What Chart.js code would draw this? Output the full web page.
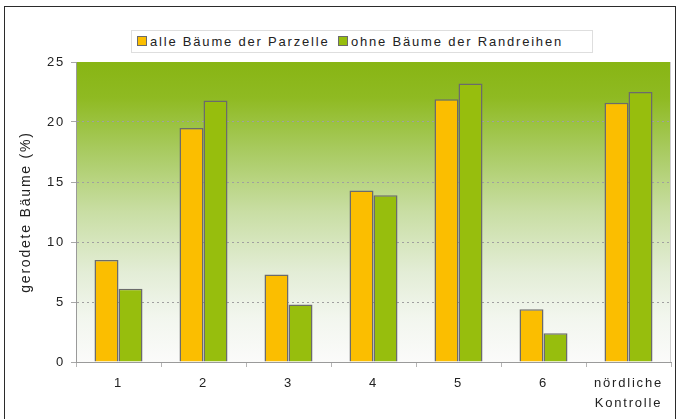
<!DOCTYPE html>
<html lang="de">
<head>
<meta charset="utf-8">
<title>gerodete Bäume</title>
<script src="https://cdn.jsdelivr.net/npm/chart.js@4.4.1/dist/chart.umd.min.js"></script>
<style>
  html, body { margin: 0; padding: 0; background: #fff; }
  #wrap { position: relative; width: 678px; height: 419px; overflow: hidden; }
  #frame { position: absolute; left: 4px; top: 6px; width: 670px; height: 450px; border: 1.5px solid #2b2b2b; }
  #chart { position: absolute; left: 0; top: 0; }
  #legend {
    position: absolute; left: 131px; top: 30px; width: 460px; height: 21px;
    border: 1px solid #dedede; background: #fff;
    font: 13px "Liberation Sans", Arial, sans-serif; color: #222; letter-spacing: 1.8px;
  }
  #legend .item { position: absolute; top: 3px; white-space: nowrap; line-height: 15px; }
  #legend .swatch { display: inline-block; width: 8px; height: 8px; border: 1px solid #6b6b6b; margin-right: 3px; }
</style>
</head>
<body>
<div id="wrap">
  <div id="frame"></div>
  <canvas id="chart" width="678" height="419"></canvas>
  <div id="legend"></div>
</div>
<script>
// Plots (x axis) and share of cleared trees in percent
const categories = ['1', '2', '3', '4', '5', '6', ['nördliche', 'Kontrolle']];
const seriesNames = ['alle Bäume der Parzelle', 'ohne Bäume der Randreihen'];
const alleBaeume = [8.5, 19.5, 7.3, 14.3, 21.9, 4.4, 21.6];
const ohneRandreihen = [6.1, 21.8, 4.8, 13.9, 23.2, 2.4, 22.5];
const yMin = 0;
const yMax = 25;
const yStep = 5;

const seriesColors = ['#fbbe00', '#97be0d'];
const textColor = '#222';
const letterSpacing = '1.8px';
const fontFamily = '"Liberation Sans", Arial, sans-serif';

// canvas text is a little spread out, like the legend
const spacing = {
  id: 'spacing',
  beforeUpdate(chart) { chart.ctx.letterSpacing = letterSpacing; },
  beforeLayout(chart) { chart.ctx.letterSpacing = letterSpacing; },
  beforeDraw(chart) { chart.ctx.letterSpacing = letterSpacing; }
};

// green-to-white fill behind the plot area
const plotFill = {
  id: 'plotFill',
  beforeDraw(chart) {
    const { ctx, chartArea: { left, top, right, bottom } } = chart;
    const g = ctx.createLinearGradient(0, top, 0, bottom);
    g.addColorStop(0, '#88b514');
    g.addColorStop(0.12, '#8fba22');
    g.addColorStop(0.3, '#a9cb62');
    g.addColorStop(0.5, '#c9dea4');
    g.addColorStop(0.7, '#e3edd6');
    g.addColorStop(0.85, '#f2f6ee');
    g.addColorStop(1, '#fbfbfa');
    ctx.save();
    ctx.fillStyle = g;
    ctx.fillRect(left, top, right - left, bottom - top);
    ctx.strokeStyle = '#cfcfcf';
    ctx.lineWidth = 1;
    ctx.beginPath();
    ctx.moveTo(right - 0.5, top);
    ctx.lineTo(right - 0.5, bottom);
    ctx.stroke();
    ctx.restore();
  }
};

const chart = new Chart(document.getElementById('chart'), {
  type: 'bar',
  data: {
    labels: categories,
    datasets: [
      {
        label: seriesNames[0],
        data: alleBaeume,
        backgroundColor: seriesColors[0],
        borderColor: '#6b6b6b',
        borderWidth: 1.5
      },
      {
        label: seriesNames[1],
        data: ohneRandreihen,
        backgroundColor: seriesColors[1],
        borderColor: '#6b6b6b',
        borderWidth: 1.5
      }
    ]
  },
  options: {
    responsive: false,
    animation: false,
    devicePixelRatio: 1,
    layout: { padding: { top: 62, right: 7, left: 0, bottom: 0 } },
    plugins: {
      legend: { display: false },
      tooltip: { enabled: false }
    },
    datasets: {
      bar: { categoryPercentage: 0.565, barPercentage: 1.0 }
    },
    scales: {
      x: {
        afterFit(scale) { scale.height = 57; },
        grid: {
          offset: true,
          drawOnChartArea: false,
          drawTicks: true,
          tickLength: 5,
          color: '#b5b5b5'
        },
        border: { color: '#9a9a9a', width: 1 },
        ticks: {
          color: textColor,
          padding: 6,
          maxRotation: 0,
          font: { family: fontFamily, size: 13, lineHeight: '20px' }
        }
      },
      y: {
        min: yMin,
        max: yMax,
        afterFit(scale) { scale.width = 76; },
        grid: {
          color: (c) => (c.tick && (c.tick.value === yMax || c.tick.value === yMin)) ? 'rgba(0,0,0,0)' : '#a0a0a0',
          tickColor: '#a8a8a8',
          tickBorderDash: [],
          drawTicks: true,
          tickLength: 5
        },
        // dotted horizontal grid lines
        border: { color: '#9a9a9a', width: 1, dash: [2, 3] },
        ticks: {
          stepSize: yStep,
          color: textColor,
          padding: 6,
          font: { family: fontFamily, size: 13 }
        },
        title: {
          display: true,
          text: 'gerodete Bäume (%)',
          color: textColor,
          padding: { top: 18, bottom: 0 },
          font: { family: fontFamily, size: 14 }
        }
      }
    }
  },
  plugins: [spacing, plotFill]
});

// legend strip above the plot, built from the same series
const legendEl = document.getElementById('legend');
const legendX = [5, 206];
chart.data.datasets.forEach((ds, i) => {
  const item = document.createElement('span');
  item.className = 'item';
  item.style.left = legendX[i] + 'px';
  const sw = document.createElement('span');
  sw.className = 'swatch';
  sw.style.background = ds.backgroundColor;
  item.appendChild(sw);
  item.appendChild(document.createTextNode(ds.label));
  legendEl.appendChild(item);
});
</script>
</body>
</html>
